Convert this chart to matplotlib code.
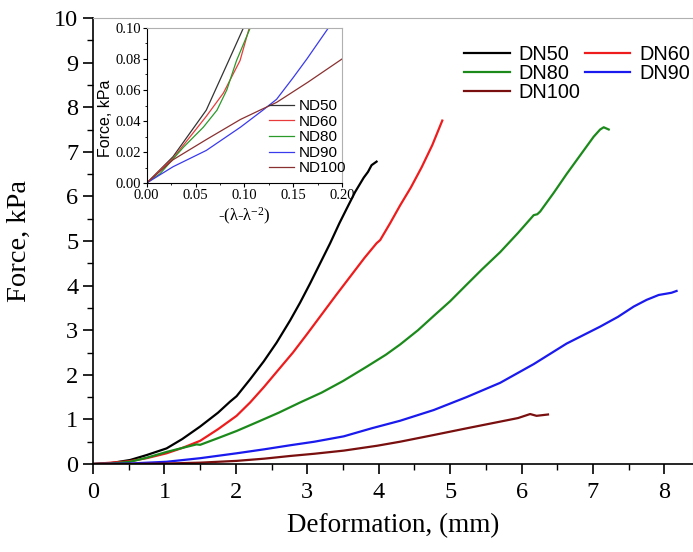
import matplotlib
matplotlib.use("Agg")
import matplotlib.pyplot as plt
from matplotlib.ticker import MultipleLocator, FormatStrFormatter

SERIF = "Liberation Serif"
SANS = "Liberation Sans"

plt.rcParams["mathtext.fontset"] = "custom"
plt.rcParams["mathtext.rm"] = SERIF
plt.rcParams["mathtext.it"] = SERIF + ":italic"

# main curves: deformation (mm) vs force (kPa)
dn50_x = [0, 0.25, 0.52, 0.75, 1.03, 1.25, 1.5, 1.75, 1.92, 2.01, 2.2, 2.39, 2.57, 2.76, 2.9,
          3.04, 3.18, 3.32, 3.45, 3.55, 3.67, 3.79, 3.85, 3.9, 3.97]
dn50_y = [0, 0.02, 0.09, 0.2, 0.35, 0.56, 0.84, 1.15, 1.4, 1.52, 1.9, 2.3, 2.72, 3.22, 3.62,
          4.05, 4.5, 4.95, 5.4, 5.72, 6.1, 6.42, 6.55, 6.7, 6.78]

dn60_x = [0, 0.5, 0.75, 1.03, 1.25, 1.5, 1.75, 2.01, 2.2, 2.39, 2.6, 2.8, 3.0, 3.2, 3.4, 3.6,
          3.8, 3.97, 4.02, 4.16, 4.3, 4.45, 4.6, 4.75, 4.89]
dn60_y = [0, 0.06, 0.13, 0.24, 0.36, 0.52, 0.78, 1.08, 1.38, 1.72, 2.12, 2.5, 2.92, 3.35, 3.78,
          4.2, 4.62, 4.95, 5.02, 5.4, 5.8, 6.2, 6.65, 7.15, 7.7]

dn80_x = [0, 0.25, 0.52, 0.75, 1.03, 1.25, 1.45, 1.5, 1.75, 2.01, 2.3, 2.6, 2.9, 3.2, 3.5,
          3.83, 4.1, 4.3, 4.55, 4.77, 5.0, 5.23, 5.45, 5.7, 5.95, 6.17, 6.22, 6.26, 6.45,
          6.63, 6.82, 7.01, 7.1, 7.15, 7.22]
dn80_y = [0, 0.01, 0.05, 0.14, 0.27, 0.36, 0.44, 0.43, 0.58, 0.74, 0.94, 1.15, 1.38, 1.6, 1.86,
          2.18, 2.45, 2.68, 3.0, 3.32, 3.65, 4.02, 4.37, 4.75, 5.18, 5.58, 5.6, 5.66, 6.08,
          6.5, 6.92, 7.34, 7.5, 7.55, 7.5]

dn90_x = [0, 0.5, 1.03, 1.5, 2.01, 2.4, 2.76, 3.1, 3.51, 3.9, 4.3, 4.77, 5.23, 5.7, 6.17,
          6.63, 7.1, 7.35, 7.57, 7.75, 7.92, 8.03, 8.1, 8.17]
dn90_y = [0, 0.01, 0.05, 0.13, 0.24, 0.33, 0.42, 0.5, 0.62, 0.8, 0.97, 1.21, 1.5, 1.82, 2.24,
          2.7, 3.08, 3.3, 3.53, 3.68, 3.79, 3.82, 3.84, 3.88]

dn100_x = [0, 0.5, 1.0, 1.5, 2.01, 2.4, 2.76, 3.1, 3.51, 3.98, 4.3, 4.77, 5.23, 5.7, 5.95,
           6.12, 6.21, 6.37]
dn100_y = [0, 0.0, 0.01, 0.03, 0.07, 0.12, 0.18, 0.23, 0.3, 0.41, 0.5, 0.65, 0.8, 0.95, 1.03,
           1.12, 1.08, 1.11]

# inset: -(lambda - lambda^-2) vs force (kPa)
nd50_x = [0, 0.027, 0.061, 0.084, 0.099]
nd50_y = [0, 0.017, 0.047, 0.079, 0.10]
nd60_x = [0, 0.027, 0.061, 0.0785, 0.0956, 0.105]
nd60_y = [0, 0.016, 0.043, 0.058, 0.079, 0.10]
nd80_x = [0, 0.0137, 0.0375, 0.058, 0.072, 0.082, 0.092, 0.106]
nd80_y = [0, 0.006, 0.023, 0.036, 0.047, 0.06, 0.079, 0.10]
nd90_x = [0, 0.027, 0.061, 0.096, 0.119, 0.133, 0.15, 0.164, 0.186]
nd90_y = [0, 0.0105, 0.021, 0.036, 0.047, 0.054, 0.068, 0.08, 0.10]
nd100_x = [0, 0.027, 0.061, 0.096, 0.116, 0.133, 0.165, 0.2]
nd100_y = [0, 0.015, 0.028, 0.041, 0.047, 0.052, 0.065, 0.08]

fig = plt.figure(figsize=(6.93, 5.52), dpi=100)
ax = fig.add_axes([93 / 693, 88 / 552, 600 / 693, 446 / 552])

main_series = [
    ("DN50", dn50_x, dn50_y, "black"),
    ("DN60", dn60_x, dn60_y, "#ee1c1c"),
    ("DN80", dn80_x, dn80_y, "#1b8a1b"),
    ("DN90", dn90_x, dn90_y, "#1a1aee"),
    ("DN100", dn100_x, dn100_y, "#7a0f0f"),
]
handles = {}
for name, xs, ys, col in main_series:
    (ln,) = ax.plot(xs, ys, color=col, lw=1.6, label=name)
    handles[name] = ln

ax.set_xlim(0, 8.4)
ax.set_ylim(0, 10)
ax.xaxis.set_major_locator(MultipleLocator(1))
ax.xaxis.set_minor_locator(MultipleLocator(0.5))
ax.yaxis.set_major_locator(MultipleLocator(1))
ax.yaxis.set_minor_locator(MultipleLocator(0.5))
ax.tick_params(which="major", direction="out", length=7, width=1.2, labelsize=17.5)
ax.tick_params(which="minor", direction="out", length=4, width=1.0)
ax.tick_params(axis="x", which="major", pad=6)
for lab in ax.get_xticklabels() + ax.get_yticklabels():
    lab.set_family(SERIF)
ax.spines["left"].set_linewidth(1.2)
ax.spines["bottom"].set_linewidth(1.2)
ax.spines["top"].set_color("#b0b0b0")
ax.spines["right"].set_color("#b0b0b0")
ax.set_xlabel("Deformation, (mm)", family=SERIF, fontsize=19.5, labelpad=7)
ax.set_ylabel("Force, kPa", family=SERIF, fontsize=20.5, labelpad=16)

order = ["DN50", "DN80", "DN100", "DN60", "DN90"]
ax.legend([handles[n] for n in order], order, ncol=2, frameon=False,
          prop={"family": SANS, "size": 14.3}, loc="upper right",
          bbox_to_anchor=(704 / 693, 1 - 31 / 552), bbox_transform=fig.transFigure,
          handlelength=2.3, handletextpad=0.45, columnspacing=0.2, labelspacing=0.0,
          borderpad=0.2)

# inset
ins = fig.add_axes([146.7 / 693, 1 - 183 / 552, 195.3 / 693, 155 / 552])
inset_series = [
    ("ND50", nd50_x, nd50_y, "#333333"),
    ("ND60", nd60_x, nd60_y, "#e83a3a"),
    ("ND80", nd80_x, nd80_y, "#2a9a2a"),
    ("ND90", nd90_x, nd90_y, "#3a3aee"),
    ("ND100", nd100_x, nd100_y, "#8a3030"),
]
for name, xs, ys, col in inset_series:
    ins.plot(xs, ys, color=col, lw=0.9, label=name)
ins.set_xlim(0, 0.2)
ins.set_ylim(0, 0.1)
ins.set_xticks([0, 0.05, 0.10, 0.15, 0.20])
ins.set_yticks([0, 0.02, 0.04, 0.06, 0.08, 0.10])
ins.xaxis.set_minor_locator(MultipleLocator(0.025))
ins.yaxis.set_minor_locator(MultipleLocator(0.01))
ins.xaxis.set_major_formatter(FormatStrFormatter("%.2f"))
ins.yaxis.set_major_formatter(FormatStrFormatter("%.2f"))
ins.tick_params(which="major", direction="out", length=3, width=0.8, labelsize=10.5, pad=1)
ins.tick_params(which="minor", direction="out", length=1.5, width=0.6)
for lab in ins.get_xticklabels() + ins.get_yticklabels():
    lab.set_family(SERIF)
ins.spines["top"].set_color("#b0b0b0")
ins.spines["right"].set_color("#b0b0b0")
ins.set_xlabel(r"-(λ-λ$^{\mathregular{-2}}$)", family=SERIF, fontsize=12, labelpad=3)
ins.set_ylabel("Force, kPa", family=SANS, fontsize=11.5)
ins.yaxis.set_label_coords(-0.175, 0.42)
ins.legend(frameon=False, prop={"family": SANS, "size": 11}, loc="lower right",
           bbox_to_anchor=(1.075, -0.02), handlelength=1.6, handletextpad=0.3,
           labelspacing=0.1, borderpad=0.2)

fig.savefig("out.png", dpi=100)
